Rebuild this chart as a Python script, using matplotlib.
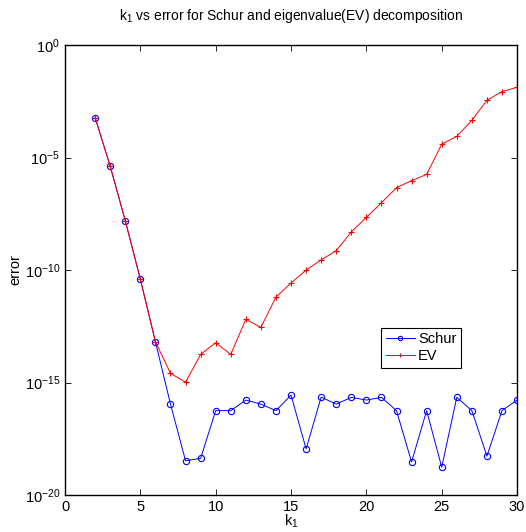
import matplotlib
matplotlib.use("Agg")
import matplotlib.pyplot as plt
import numpy as np

plt.rcParams['font.family'] = ['Liberation Sans', 'DejaVu Sans']
plt.rcParams['mathtext.fontset'] = 'custom'
plt.rcParams['mathtext.rm'] = 'Liberation Sans'
plt.rcParams['mathtext.it'] = 'Liberation Sans:italic'
plt.rcParams['font.size'] = 10

k1 = np.arange(2, 31)

# log10 of the error for each k1
schur_log = [-3.23, -5.39, -7.81, -10.41, -13.19, -15.96, -18.48, -18.37, -16.25,
             -16.25, -15.78, -15.96, -16.25, -15.56, -17.95, -15.65, -15.96, -15.66,
             -15.78, -15.66, -16.25, -18.53, -16.25, -18.76, -15.66, -16.25, -18.27,
             -16.25, -15.78]
ev_log = [-3.23, -5.39, -7.81, -10.41, -13.19, -14.59, -14.99, -13.75, -13.23,
          -13.75, -12.19, -12.55, -11.2, -10.58, -10.0, -9.55, -9.14, -8.31,
          -7.66, -7.01, -6.34, -6.03, -5.75, -4.41, -4.06, -3.35, -2.46, -2.07, -1.88]

schur_err = 10.0 ** np.array(schur_log)
ev_err = 10.0 ** np.array(ev_log)

fig = plt.figure(figsize=(5.26, 5.32), dpi=100)
ax = fig.add_axes([0.1236, 0.0695, 0.8594, 0.8459])

ax.semilogy(k1, schur_err, '-o', color='blue', lw=0.7, ms=4.5,
            mfc='none', mew=0.8, label='Schur')
ax.semilogy(k1, ev_err, '-+', color='red', lw=0.7, ms=5, mew=0.8, label='EV')

ax.set_xlim(0, 30)
ax.set_ylim(1e-20, 1e0)
ax.set_xticks([0, 5, 10, 15, 20, 25, 30])
ax.set_yticks([1e-20, 1e-15, 1e-10, 1e-5, 1e0])
ax.set_yticklabels([r'$10^{-20}$', r'$10^{-15}$', r'$10^{-10}$', r'$10^{-5}$', r'$10^{0}$'])
ax.minorticks_off()
ax.tick_params(direction='in', top=True, right=True, length=4, width=0.6,
               labelsize=10.5)
for s in ax.spines.values():
    s.set_linewidth(1.0)

ax.set_xlabel(r'k$_1$', fontsize=10.5, labelpad=-1)
ax.set_ylabel('error', fontsize=10.5, labelpad=2)
ax.set_title(r'k$_1$ vs error for Schur and eigenvalue(EV) decomposition',
             fontsize=10, pad=18)

leg = ax.legend(loc='upper left', bbox_to_anchor=(0.70, 0.371), fancybox=False,
                edgecolor='black', framealpha=1, fontsize=10.5, handlelength=2.0,
                borderpad=0.3, labelspacing=0.2, handletextpad=0.2,
                borderaxespad=0, markerscale=0.7)
leg.get_frame().set_linewidth(0.8)

fig.savefig('out.png', dpi=100)
